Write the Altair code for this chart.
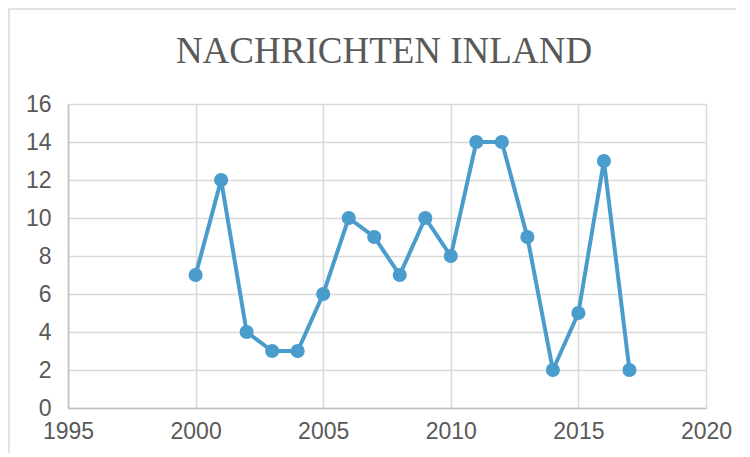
import altair as alt
import pandas as pd

years = [2000, 2001, 2002, 2003, 2004, 2005, 2006, 2007, 2008, 2009,
         2010, 2011, 2012, 2013, 2014, 2015, 2016, 2017]
values = [7, 12, 4, 3, 3, 6, 10, 9, 7, 10, 8, 14, 14, 9, 2, 5, 13, 2]
x_ticks = [1995, 2000, 2005, 2010, 2015, 2020]
y_ticks = [0, 2, 4, 6, 8, 10, 12, 14, 16]
title = "NACHRICHTEN INLAND"

df = pd.DataFrame({"year": years, "value": values})
color = "#4a9ccc"

x = alt.X("year:Q", scale=alt.Scale(domain=[1995, 2020], nice=False, zero=False),
          axis=alt.Axis(values=x_ticks, format="d", title=None, labelPadding=12,
                        labelFlush=False))
y = alt.Y("value:Q", scale=alt.Scale(domain=[0, 16], nice=False),
          axis=alt.Axis(values=y_ticks, title=None, labelPadding=17, labelFlush=False))

base = alt.Chart(df)
line = base.mark_line(color=color, strokeWidth=4).encode(x=x, y=y)
points = base.mark_point(filled=True, size=200, opacity=1, color=color).encode(x=x, y=y)

frame = alt.Chart(pd.DataFrame({"a": [0]})).mark_rect(
    fill="transparent", stroke="#d9d9d9", strokeWidth=1.5
).encode(x=alt.value(-59), x2=alt.value(720), y=alt.value(-95), y2=alt.value(400))

title_text = alt.Chart(pd.DataFrame({"t": [title]})).mark_text(
    font="Liberation Serif", fontSize=37, color="#595959", align="center",
    baseline="alphabetic"
).encode(text="t:N", x=alt.value(316), y=alt.value(-41))

chart = alt.layer(frame, line, points, title_text).properties(
    width=638, height=304,
    padding={"left": 60, "top": 96, "right": 30, "bottom": 45},
    autosize=alt.AutoSizeParams(type="none"),
).configure_view(stroke=None).configure_axis(
    gridColor="#d9d9d9", gridWidth=1.5, domainColor="#bfbfbf", domainWidth=1.5,
    ticks=False, labelFontSize=23, labelColor="#595959", labelFont="Liberation Sans",
)

chart.save("out.html", embed_options={"renderer": "svg", "actions": False})
